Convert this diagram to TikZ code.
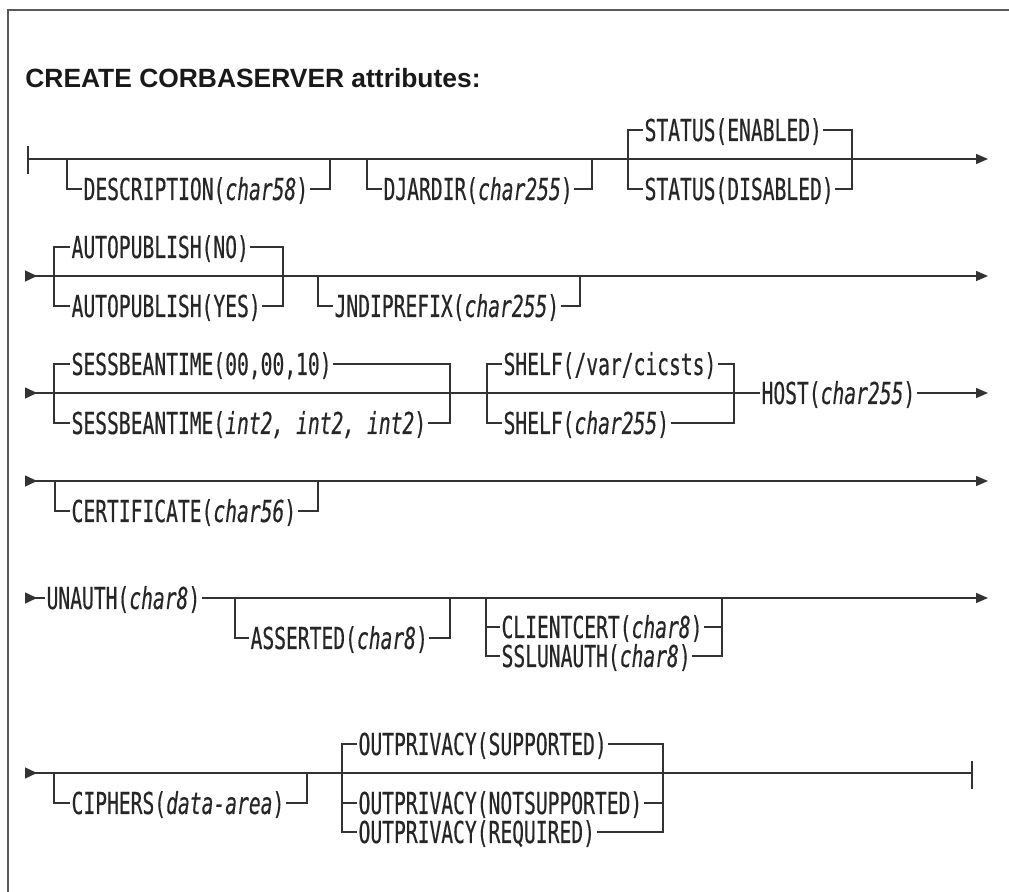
\documentclass[tikz,border=0pt]{standalone}
\usepackage{fontspec}
\usepackage{tikz}
\usetikzlibrary{arrows.meta}
\newfontfamily\railfont[FakeStretch=0.65,FakeBold=0.4]{DejaVu Sans Mono}
\newfontfamily\titlefont{Liberation Sans}

\begin{document}
\begin{tikzpicture}[x=0.5pt, y=-0.5pt]
    \tikzset{rail/.style = {draw=black!80, line width=0.7pt}}
    \tikzset{railtip/.style = {-{Triangle[length=6pt,width=5pt]}}}
    \tikzset{railin/.style = {{Triangle[reversed,length=6pt,width=5.5pt]}-}}
    \tikzset{railboth/.style = {{Triangle[reversed,length=6pt,width=5.5pt]}-{Triangle[length=6pt,width=5pt]}}}
    \tikzset{opt/.style = {anchor=west, inner xsep=0.6pt, inner ysep=0pt, text=black!85,
      font=\railfont\fontsize{15.1}{17}\selectfont, text height=11pt, text depth=0pt}}
    \tikzset{frame/.style = {draw=black!65, line width=1pt}}

    \useasboundingbox (0,0) rectangle (1009,892);
    \draw[frame] (1009,10) -- (8,10) -- (8,892);

    % title
    \node[anchor=base west, inner sep=0pt, text=black!90,
      font=\titlefont\bfseries\fontsize{13.2}{15}\selectfont] (title) at (25,88)
      {CREATE CORBASERVER attributes:};

    % row ends
    \coordinate (r1s) at (28,159);  \coordinate (r1e) at (988,159);
    \coordinate (r2s) at (25,276);  \coordinate (r2e) at (988,276);
    \coordinate (r3s) at (25,393);  \coordinate (r3e) at (988,393);
    \coordinate (r4s) at (25,481);  \coordinate (r4e) at (988,481);
    \coordinate (r5s) at (25,598);  \coordinate (r5e) at (988,598);
    \coordinate (r6s) at (25,773);  \coordinate (r6e) at (972,773);

    % junctions
    \coordinate (d1) at (67,159);   \coordinate (d2) at (330,159);
    \coordinate (j1) at (367,159);  \coordinate (j2) at (592,159);
    \coordinate (s1) at (628,159);  \coordinate (s2) at (852,159);
    \coordinate (a1) at (54,276);   \coordinate (a2) at (283,276);
    \coordinate (n1) at (318,276);  \coordinate (n2) at (580,276);
    \coordinate (b1) at (54,393);   \coordinate (b2) at (450,393);
    \coordinate (h1) at (487,393);  \coordinate (h2) at (734,393);
    \coordinate (c1) at (55,481);   \coordinate (c2) at (318,481);
    \coordinate (t1) at (235,598);  \coordinate (t2) at (450,598);
    \coordinate (k1) at (486,598);  \coordinate (k2) at (722,598);
    \coordinate (p1) at (54,773);   \coordinate (p2) at (307,773);
    \coordinate (o1) at (342,773);  \coordinate (o2) at (663,773);

    % options
    \node[opt] (desc) at (82,189) {DESCRIPTION(\textit{char58})};
    \node[opt] (djar) at (382,189) {DJARDIR(\textit{char255})};
    \node[opt] (sten) at (643,130) {STATUS(ENABLED)};
    \node[opt] (stdis) at (643,189) {STATUS(DISABLED)};

    \node[opt] (apno) at (70,247) {AUTOPUBLISH(NO)};
    \node[opt] (apyes) at (70,306) {AUTOPUBLISH(YES)};
    \node[opt] (jndi) at (333,306) {JNDIPREFIX(\textit{char255})};

    \node[opt] (sbdef) at (70,364) {SESSBEANTIME(00,00,10)};
    \node[opt] (sbint) at (70,423) {SESSBEANTIME(\textit{int2, int2, int2})};
    \node[opt] (shdef) at (502,364) {SHELF(/var/cicsts)};
    \node[opt] (shchar) at (502,423) {SHELF(\textit{char255})};
    \node[opt] (host) at (760,393) {HOST(\textit{char255})};

    \node[opt] (cert) at (70,511) {CERTIFICATE(\textit{char56})};

    \node[opt] (unauth) at (45,598) {UNAUTH(\textit{char8})};
    \node[opt] (asrt) at (249,638) {ASSERTED(\textit{char8})};
    \node[opt] (ccert) at (500,627) {CLIENTCERT(\textit{char8})};
    \node[opt] (sslu) at (500,656) {SSLUNAUTH(\textit{char8})};

    \node[opt] (ciph) at (70,803) {CIPHERS(\textit{data-area})};
    \node[opt] (osup) at (357,744) {OUTPRIVACY(SUPPORTED)};
    \node[opt] (onot) at (357,803) {OUTPRIVACY(NOTSUPPORTED)};
    \node[opt] (oreq) at (357,832) {OUTPRIVACY(REQUIRED)};

    % rails
    \draw[rail] ([yshift=6.5pt]r1s) -- ([yshift=-7.5pt]r1s);
    \draw[rail,railtip] (r1s) -- (r1e);
    \draw[rail] (d1) |- (desc.west);   \draw[rail] (desc.east) -| (d2);
    \draw[rail] (j1) |- (djar.west);   \draw[rail] (djar.east) -| (j2);
    \draw[rail] (sten.west) -| (s1) |- (stdis.west);
    \draw[rail] (sten.east) -| (s2) |- (stdis.east);

    \draw[rail,railboth] (r2s) -- (r2e);
    \draw[rail] (apno.west) -| (a1) |- (apyes.west);
    \draw[rail] (apno.east) -| (a2) |- (apyes.east);
    \draw[rail] (n1) |- (jndi.west);   \draw[rail] (jndi.east) -| (n2);

    \draw[rail,railin] (r3s) -- (host.west);
    \draw[rail,railtip] (host.east) -- (r3e);
    \draw[rail] (sbdef.west) -| (b1) |- (sbint.west);
    \draw[rail] (sbdef.east) -| (b2) |- (sbint.east);
    \draw[rail] (shdef.west) -| (h1) |- (shchar.west);
    \draw[rail] (shdef.east) -| (h2) |- (shchar.east);

    \draw[rail,railboth] (r4s) -- (r4e);
    \draw[rail] (c1) |- (cert.west);   \draw[rail] (cert.east) -| (c2);

    \draw[rail,railin] (r5s) -- (unauth.west);
    \draw[rail,railtip] (unauth.east) -- (r5e);
    \draw[rail] (t1) |- (asrt.west);   \draw[rail] (asrt.east) -| (t2);
    \draw[rail] (k1) |- (ccert.west);  \draw[rail] (k1) |- (sslu.west);
    \draw[rail] (ccert.east) -| (k2);  \draw[rail] (sslu.east) -| (k2);

    \draw[rail,railin] (r6s) -- (r6e);
    \draw[rail] ([yshift=6pt]r6e) -- ([yshift=-8pt]r6e);
    \draw[rail] (p1) |- (ciph.west);   \draw[rail] (ciph.east) -| (p2);
    \draw[rail] (osup.west) -| (o1) |- (onot.west);
    \draw[rail] (o1) |- (oreq.west);
    \draw[rail] (osup.east) -| (o2) |- (onot.east);
    \draw[rail] (o2) |- (oreq.east);
  \end{tikzpicture}
\end{document}
